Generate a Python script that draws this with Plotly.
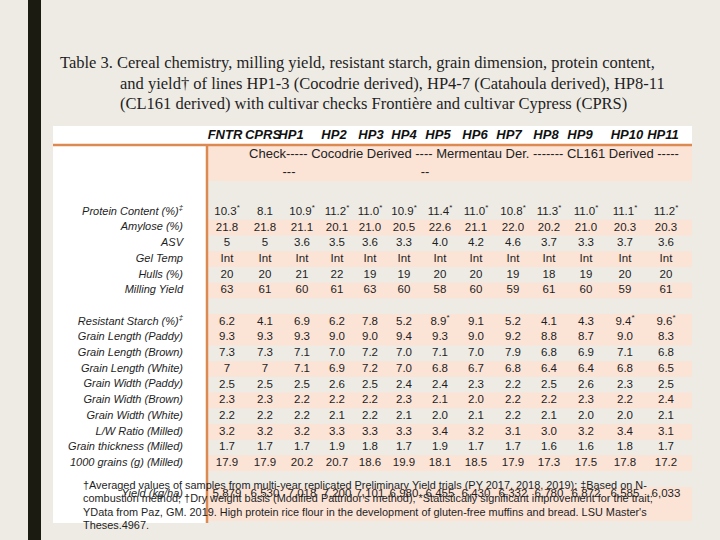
import plotly.graph_objects as go

# ---------------- data ----------------
columns = ["FNTR", "CPRS", "HP1", "HP2", "HP3", "HP4", "HP5", "HP6", "HP7", "HP8", "HP9", "HP10", "HP11"]

title_lines = [
    "Table 3. Cereal chemistry, milling yield, resistant starch, grain dimension, protein content,",
    "and yield† of lines HP1-3 (Cocodrie derived), HP4-7 (Catahoula derived), HP8-11",
    "(CL161 derived) with cultivar checks Frontière and cultivar Cypress (CPRS)",
]

group_line = "Check----- Cocodrie Derived ---- Mermentau Der. ------- CL161 Derived -----"
group_wrap_a = "---"
group_wrap_b = "--"

labels_chem = ["Protein Content (%)<sup>‡</sup>", "Amylose (%)", "ASV", "Gel Temp", "Hulls (%)", "Milling Yield"]
protein = ["10.3", "8.1", "10.9", "11.2", "11.0", "10.9", "11.4", "11.0", "10.8", "11.3", "11.0", "11.1", "11.2"]
protein_sig = [1, 0, 1, 1, 1, 1, 1, 1, 1, 1, 1, 1, 1]
amylose = ["21.8", "21.8", "21.1", "20.1", "21.0", "20.5", "22.6", "21.1", "22.0", "20.2", "21.0", "20.3", "20.3"]
asv = ["5", "5", "3.6", "3.5", "3.6", "3.3", "4.0", "4.2", "4.6", "3.7", "3.3", "3.7", "3.6"]
gel_temp = ["Int"] * 13
hulls = ["20", "20", "21", "22", "19", "19", "20", "20", "19", "18", "19", "20", "20"]
milling = ["63", "61", "60", "61", "63", "60", "58", "60", "59", "61", "60", "59", "61"]

labels_grain = ["Resistant Starch (%)<sup>‡</sup>", "Grain Length (Paddy)", "Grain Length (Brown)",
                "Grain Length (White)", "Grain Width (Paddy)", "Grain Width (Brown)",
                "Grain Width (White)", "L/W Ratio (Milled)", "Grain thickness (Milled)",
                "1000 grains (g) (Milled)"]
resistant = ["6.2", "4.1", "6.9", "6.2", "7.8", "5.2", "8.9", "9.1", "5.2", "4.1", "4.3", "9.4", "9.6"]
resistant_sig = [0, 0, 0, 0, 0, 0, 1, 0, 0, 0, 0, 1, 1]
gl_paddy = ["9.3", "9.3", "9.3", "9.0", "9.0", "9.4", "9.3", "9.0", "9.2", "8.8", "8.7", "9.0", "8.3"]
gl_brown = ["7.3", "7.3", "7.1", "7.0", "7.2", "7.0", "7.1", "7.0", "7.9", "6.8", "6.9", "7.1", "6.8"]
gl_white = ["7", "7", "7.1", "6.9", "7.2", "7.0", "6.8", "6.7", "6.8", "6.4", "6.4", "6.8", "6.5"]
gw_paddy = ["2.5", "2.5", "2.5", "2.6", "2.5", "2.4", "2.4", "2.3", "2.2", "2.5", "2.6", "2.3", "2.5"]
gw_brown = ["2.3", "2.3", "2.2", "2.2", "2.2", "2.3", "2.1", "2.0", "2.2", "2.2", "2.3", "2.2", "2.4"]
gw_white = ["2.2", "2.2", "2.2", "2.1", "2.2", "2.1", "2.0", "2.1", "2.2", "2.1", "2.0", "2.0", "2.1"]
lw_ratio = ["3.2", "3.2", "3.2", "3.3", "3.3", "3.3", "3.4", "3.2", "3.1", "3.0", "3.2", "3.4", "3.1"]
thickness = ["1.7", "1.7", "1.7", "1.9", "1.8", "1.7", "1.9", "1.7", "1.7", "1.6", "1.6", "1.8", "1.7"]
grains_1000 = ["17.9", "17.9", "20.2", "20.7", "18.6", "19.9", "18.1", "18.5", "17.9", "17.3", "17.5", "17.8", "17.2"]

yield_label = "Yield (kg/ha)"
yield_kg_ha = [5879, 6530, 7018, 7200, 7101, 6980, 6455, 6430, 6332, 6780, 6872, 6585, 6033]

footnote_lines = [
    "†Averaged values of samples from multi-year replicated Preliminary Yield trials (PY 2017, 2018, 2019); ‡Based on N-",
    "combustion method; †Dry weight basis (Modified Pattridor's method); *Statistically significant improvement for the trait;",
    "YData from Paz, GM. 2019. High protein rice flour in the development of gluten-free muffins and bread. LSU Master's",
    "Theses.4967.",
]

# ---------------- layout constants ----------------
BG = "#EEEBE5"
PINK = "#FBE3D6"
ORANGE = "#DC8A52"
DARK = "#1B1B12"
TXT = "#1E1E1E"
SANS = "Liberation Sans, Arial"
SERIF = "Liberation Serif, Times New Roman"

COL_X = [227, 265, 302, 337, 370, 404, 440, 476, 513, 549, 586, 625, 666]
HEAD_X = [225, 263, 291, 334, 371, 404, 438, 475, 509, 546, 580, 627, 663]
ROW_Y0, ROW_PITCH = 212, 15.7
LABEL_X = 183
DATA_X0, DATA_X1 = 208, 692


def row_y(k):
    return ROW_Y0 + ROW_PITCH * k


def with_sig(vals, sig):
    return [v + ("<sup>*</sup>" if s else "") for v, s in zip(vals, sig)]


rows = [
    (0, labels_chem[0], with_sig(protein, protein_sig)),
    (1, labels_chem[1], amylose),
    (2, labels_chem[2], asv),
    (3, labels_chem[3], gel_temp),
    (4, labels_chem[4], hulls),
    (5, labels_chem[5], milling),
    (7, labels_grain[0], with_sig(resistant, resistant_sig)),
    (8, labels_grain[1], gl_paddy),
    (9, labels_grain[2], gl_brown),
    (10, labels_grain[3], gl_white),
    (11, labels_grain[4], gw_paddy),
    (12, labels_grain[5], gw_brown),
    (13, labels_grain[6], gw_white),
    (14, labels_grain[7], lw_ratio),
    (15, labels_grain[8], thickness),
    (16, labels_grain[9], grains_1000),
    (18, yield_label, [f"{v:,}" for v in yield_kg_ha]),
]
PINK_ROWS = [1, 3, 5, 7, 8, 10, 12, 14, 16]

fig = go.Figure()

shapes = []
shapes.append(dict(type="rect", x0=28, x1=41, y0=0, y1=540, fillcolor=DARK, line_width=0, layer="below"))
shapes.append(dict(type="rect", x0=53, x1=DATA_X1, y0=126, y1=145, fillcolor="white", line_width=0, layer="below"))
shapes.append(dict(type="rect", x0=53, x1=207, y0=145, y1=523, fillcolor="white", line_width=0, layer="below"))
shapes.append(dict(type="rect", x0=DATA_X0, x1=DATA_X1, y0=146, y1=181, fillcolor=PINK, line_width=0, layer="below"))
for k in PINK_ROWS:
    shapes.append(dict(type="rect", x0=DATA_X0, x1=DATA_X1, y0=row_y(k) - ROW_PITCH / 2,
                       y1=row_y(k) + ROW_PITCH / 2, fillcolor=PINK, line_width=0, layer="below"))
shapes.append(dict(type="rect", x0=DATA_X0, x1=DATA_X1, y0=487, y1=521, fillcolor=PINK, line_width=0, layer="below"))
shapes.append(dict(type="line", x0=53, x1=DATA_X1, y0=145, y1=145, line=dict(color=ORANGE, width=2.5), layer="below"))
shapes.append(dict(type="line", x0=207, x1=207, y0=145, y1=523, line=dict(color=ORANGE, width=2.5), layer="below"))

# column headers
fig.add_trace(go.Scatter(x=HEAD_X, y=[136] * len(columns), mode="text",
                         text=[f"<b><i>{c}</i></b>" for c in columns],
                         textfont=dict(family=SANS, size=13, color="#111111"),
                         textposition="middle center", hoverinfo="skip"))

# group line
fig.add_trace(go.Scatter(x=[464, 289, 425], y=[155, 173, 173], mode="text",
                         text=[group_line, group_wrap_a, group_wrap_b],
                         textfont=dict(family=SANS, size=13, color="#222222"),
                         textposition="middle center", hoverinfo="skip"))

# data cells and labels
for k, label, vals in rows:
    y = row_y(k)
    fig.add_trace(go.Scatter(x=COL_X, y=[y] * len(vals), mode="text", text=vals,
                             textfont=dict(family=SANS, size=11.5, color=TXT),
                             textposition="middle center", hoverinfo="skip"))
    fig.add_trace(go.Scatter(x=[LABEL_X], y=[y], mode="text", text=[f"<i>{label}</i>"],
                             textfont=dict(family=SANS, size=11, color=TXT),
                             textposition="middle left", hoverinfo="skip"))

annotations = []
title_pos = [(58, 62), (118, 83), (118, 103)]
for (x, y), line in zip(title_pos, title_lines):
    annotations.append(dict(x=x, y=y, xref="x", yref="y", text=line, showarrow=False,
                            xanchor="left", yanchor="middle",
                            font=dict(family=SERIF, size=16.5, color=TXT)))
for i, line in enumerate(footnote_lines):
    annotations.append(dict(x=81, y=485 + 13.3 * i, xref="x", yref="y", text=line, showarrow=False,
                            xanchor="left", yanchor="middle",
                            font=dict(family=SANS, size=10.9, color=TXT)))

fig.update_layout(
    width=720, height=540,
    margin=dict(l=0, r=0, t=0, b=0),
    paper_bgcolor=BG, plot_bgcolor=BG,
    xaxis=dict(range=[0, 720], visible=False, fixedrange=True),
    yaxis=dict(range=[540, 0], visible=False, fixedrange=True),
    showlegend=False,
    shapes=shapes,
    annotations=annotations,
)

fig.write_html("out.html",
               config={"displayModeBar": False, "staticPlot": True},
               post_script="document.body.style.margin='0';document.body.style.background='" + BG + "';")
